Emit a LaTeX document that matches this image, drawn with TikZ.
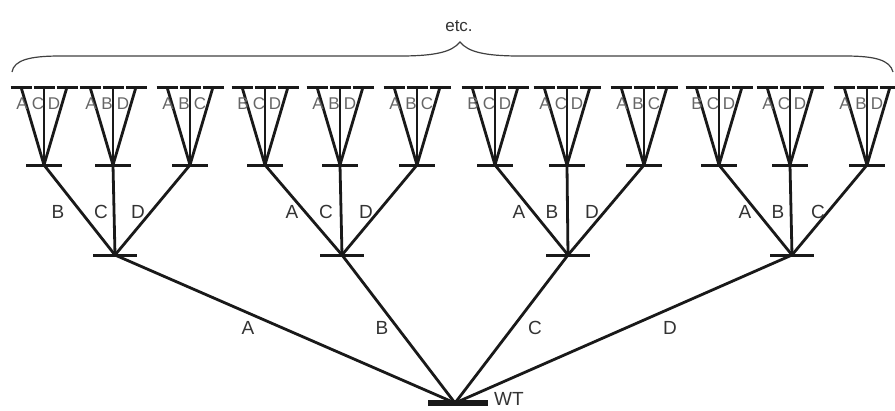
\documentclass[tikz,border=0pt]{standalone}
\usepackage{fontspec}
\setmainfont{Liberation Sans}
\begin{document}
\begin{tikzpicture}[x=1pt,y=-1pt,
  edge/.style={line width=2.8pt,black!90},
  bar/.style={line width=3pt,black!90},
  fanlbl/.style={font=\fontsize{17}{17}\selectfont,text=black!60,inner sep=0pt},
  edgelbl/.style={font=\fontsize{19}{19}\selectfont,text=black!80,inner sep=0pt},
  brace/.style={line width=1.2pt,black!75}]
\useasboundingbox (0,0) rectangle (895,410);
% root
\coordinate (root) at (455,403);
\coordinate (rootL) at (428,403);
\coordinate (rootR) at (488,403);
\draw[line width=5.5pt,black!90] (rootL) -- (rootR);
\node[edgelbl,anchor=base west] (wt) at (494,405) {WT};
% level 1
\foreach \i/\x in {1/115,2/342,3/568,4/792}{
  \coordinate (m\i) at (\x,255);
  \coordinate (m\i l) at (\x-22,255);
  \coordinate (m\i r) at (\x+22,255);
  \draw[bar] (m\i l) -- (m\i r);
  \draw[edge] (root) -- (m\i);
}
\node[edgelbl] (la) at (248,328) {A};
\node[edgelbl] (lb) at (382,328) {B};
\node[edgelbl] (lc) at (535,328) {C};
\node[edgelbl] (ld) at (670,328) {D};
% level 2
\foreach \j/\x/\p/\a/\b/\c in {1/44/1/A/C/D,2/113/1/A/B/D,3/190/1/A/B/C,
  4/265/2/B/C/D,5/340/2/A/B/D,6/417/2/A/B/C,
  7/495/3/B/C/D,8/567/3/A/C/D,9/644/3/A/B/C,
  10/719/4/B/C/D,11/790/4/A/C/D,12/867/4/A/B/D}{
  \coordinate (n\j) at (\x,165);
  \coordinate (n\j l) at (\x-18,165);
  \coordinate (n\j r) at (\x+18,165);
  \draw[bar] (n\j l) -- (n\j r);
  \draw[edge] (m\p) -- (n\j);
  \foreach \k/\dx in {1/-23,2/0,3/23}{
    \coordinate (t\j-\k) at (\x+\dx,87);
    \coordinate (t\j-\k a) at (\x+\dx-10.5,87);
    \coordinate (t\j-\k b) at (\x+\dx+10.5,87);
    \draw[bar] (t\j-\k a) -- (t\j-\k b);
    \draw[edge] (n\j) -- (t\j-\k);
  }
  \node[fanlbl] (f\j a) at (\x-22,104) {\a};
  \node[fanlbl] (f\j b) at (\x-6,104) {\b};
  \node[fanlbl] (f\j c) at (\x+10,104) {\c};
}
% level-1 edge labels
\node[edgelbl] at (58,212) {B};
\node[edgelbl] at (101,212) {C};
\node[edgelbl] at (138,212) {D};
\node[edgelbl] at (292,212) {A};
\node[edgelbl] at (326,212) {C};
\node[edgelbl] at (366,212) {D};
\node[edgelbl] at (519,212) {A};
\node[edgelbl] at (552,212) {B};
\node[edgelbl] at (592,212) {D};
\node[edgelbl] at (745,212) {A};
\node[edgelbl] at (778,212) {B};
\node[edgelbl] at (818,212) {C};
% brace
\coordinate (bl) at (12,72);
\coordinate (br) at (893,72);
\coordinate (btip) at (460,42);
\draw[brace] (bl) .. controls (14,60) and (30,56) .. (60,56) -- (400,56)
  .. controls (435,56) and (452,52) .. (btip)
  .. controls (468,52) and (485,56) .. (520,56) -- (845,56)
  .. controls (875,56) and (890,60) .. (br);
\node[font=\fontsize{17}{17}\selectfont,text=black!80] (etc) at (459,26) {etc.};
\end{tikzpicture}
\end{document}
